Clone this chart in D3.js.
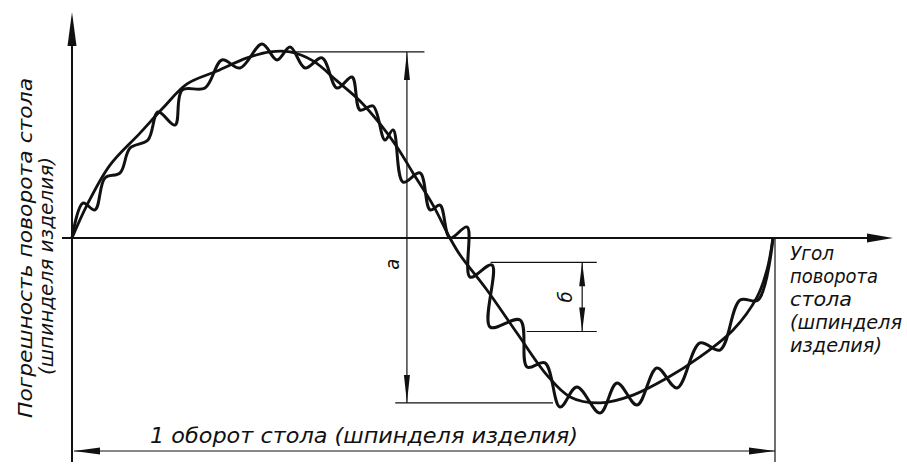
<!DOCTYPE html>
<html>
<head>
<meta charset="utf-8">
<script src="https://cdn.jsdelivr.net/npm/d3@7"></script>
<style>
  body { margin: 0; background: #fff; }
  text { font-family: "Liberation Sans Narrow", "DejaVu Sans Condensed", "DejaVu Sans", sans-serif; font-style: italic; fill: #111; }
</style>
</head>
<body>
<svg id="chart" width="907" height="464"></svg>
<script>
// angle of table rotation, degrees (one revolution) / error, arbitrary units
const smoothAngle = [0, 7.7, 19.5, 34.9, 46.7, 59.1, 74.5, 89.9, 101.7, 112, 123.8, 136.1, 147.9, 158.2, 166.9, 175.1, 185.4, 194.1, 199.3, 213.1, 228.5, 243.9, 255.8, 271.2, 288.1, 305.6, 322.5, 339.5, 351.8, 356.9, 360];
const smoothError = [0, 17.6, 39, 56.1, 69.5, 82.4, 89.3, 96.3, 99.5, 99.5, 94.7, 84, 73.3, 61, 48.7, 34.8, 17.6, 0, -9.1, -27.8, -50.8, -73.3, -85, -88.2, -84, -74.9, -63.6, -49.2, -31.6, -17.1, 0];

const wavyAngle = [0, 5.6, 11.8, 16.9, 24.7, 29.8, 39, 44.2, 52.9, 56.5, 68.3, 77, 86.3, 97.6, 105.3, 112, 119.7, 128.4, 136.1, 143.8, 147.9, 154.6, 160.7, 164.9, 170, 178.7, 183.9, 189, 194.1, 202.9, 204.4, 215.7, 214.7, 230.1, 233.7, 242.9, 250.6, 259.3, 271.2, 279.9, 290.2, 300.4, 310.7, 322.5, 332.8, 343.1, 352.3, 360];
const wavyError = [0, 18.7, 15, 32.1, 34.8, 48.1, 52.4, 67.4, 60.4, 79.1, 80.2, 95.2, 90.9, 103.7, 95.2, 102.1, 90.9, 96.3, 80.2, 86.1, 68.4, 70.6, 52.4, 57.8, 29.9, 34.8, 15, 17.6, 0, 5.9, -20.9, -14.4, -47.6, -43.9, -69, -66.8, -90.4, -79.7, -93.6, -77.5, -89.3, -69.5, -80.2, -56.1, -59.9, -33.2, -33.2, 0];

// dimension "б": angle of dim line, upper and lower error
const smallDim = [262, -13, -50];

const yLabel = ["Погрешность поворота стола", "(шпинделя изделия)"];
const xLabel = ["Угол", "поворота", "стола", "(шпинделя", "изделия)"];
const revLabel = "1 оборот стола (шпинделя изделия)";

const svg = d3.select("#chart");
const x = d3.scaleLinear().domain([0, 360]).range([72, 773]);
const y = d3.scaleLinear().domain([-100, 100]).range([425, 51]);

const smooth = smoothAngle.map((a, i) => [a, smoothError[i]]);
const wavy = wavyAngle.map((a, i) => [a, wavyError[i]]);

function arrow(tx, ty, dir, len, half) {
    let pts;
    if (dir === "up") pts = [[tx, ty], [tx - half, ty + len], [tx + half, ty + len]];
    if (dir === "down") pts = [[tx, ty], [tx - half, ty - len], [tx + half, ty - len]];
    if (dir === "left") pts = [[tx, ty], [tx + len, ty - half], [tx + len, ty + half]];
    if (dir === "right") pts = [[tx, ty], [tx - len, ty - half], [tx - len, ty + half]];
    svg.append("path").attr("d", "M" + pts.join("L") + "Z").attr("fill", "#111");
}
function line(x1, y1, x2, y2, w) {
    svg.append("line").attr("x1", x1).attr("y1", y1).attr("x2", x2).attr("y2", y2)
        .attr("stroke", "#111").attr("stroke-width", w);
}

// axes
const x0 = x(0), y0 = y(0);
line(x0, 462, x0, 30, 2);
arrow(x0, 12, "up", 34, 4.5);
line(62, y0, 875, y0, 2);
arrow(893, y0, "right", 26, 4.5);

// dimension a
const maxErr = d3.max(smoothError), minErr = d3.min(smoothError);
const ax = x(172);
line(x(112), y(maxErr), x(181), y(maxErr), 1.2);
line(x(166), y(minErr), x(247), y(minErr), 1.2);
line(ax, y(maxErr), ax, y(minErr), 1.2);
arrow(ax, y(maxErr), "up", 28, 3);
arrow(ax, y(minErr), "down", 28, 3);
svg.append("text").attr("transform", `translate(${ax - 8},${y(-14)}) rotate(-90)`)
    .attr("text-anchor", "middle").attr("font-size", 20).text("a");

// dimension б
const bx = x(smallDim[0]);
line(x(215), y(smallDim[1]), x(269.5), y(smallDim[1]), 1.2);
line(x(233.5), y(smallDim[2]), x(269.5), y(smallDim[2]), 1.2);
line(bx, y(smallDim[1]), bx, y(smallDim[2]), 1.2);
arrow(bx, y(smallDim[1]), "up", 24, 3);
arrow(bx, y(smallDim[2]), "down", 24, 3);
svg.append("text").attr("transform", `translate(${bx - 10},${y((smallDim[1] + smallDim[2]) / 2)}) rotate(-90)`)
    .attr("text-anchor", "middle").attr("font-size", 20).text("б");

// one revolution
line(x(360) + 2, y0, x(360) + 2, 462, 1.2);
line(x0 + 2, 451, x(360) + 2, 451, 1.2);
arrow(x0 + 2, 451, "left", 26, 3.5);
arrow(x(360) + 2, 451, "right", 26, 3.5);
svg.append("text").attr("x", 150).attr("y", 443).attr("font-size", 21)
    .attr("textLength", 428).attr("lengthAdjust", "spacingAndGlyphs").text(revLabel);

// curves
const curveLine = d3.line().x(d => x(d[0])).y(d => y(d[1])).curve(d3.curveCatmullRom.alpha(0.5));
svg.append("path").datum(smooth).attr("d", curveLine)
    .attr("fill", "none").attr("stroke", "#111").attr("stroke-width", 2.8);
svg.append("path").datum(wavy).attr("d", curveLine)
    .attr("fill", "none").attr("stroke", "#111").attr("stroke-width", 3);

// y label
const yl = svg.append("g");
yl.append("text").attr("transform", "translate(32,418) rotate(-90)")
    .attr("font-size", 19).attr("textLength", 340).attr("lengthAdjust", "spacingAndGlyphs").text(yLabel[0]);
yl.append("text").attr("transform", "translate(53,375) rotate(-90)")
    .attr("font-size", 19).attr("textLength", 218).attr("lengthAdjust", "spacingAndGlyphs").text(yLabel[1]);

// x label
const xw = [44, 88, 62, 112, 92];
svg.append("g").selectAll("text").data(xLabel).join("text")
    .attr("x", 790).attr("y", (d, i) => 260 + i * 23)
    .attr("font-size", 19).attr("textLength", (d, i) => xw[i]).attr("lengthAdjust", "spacingAndGlyphs")
    .text(d => d);
</script>
</body>
</html>
